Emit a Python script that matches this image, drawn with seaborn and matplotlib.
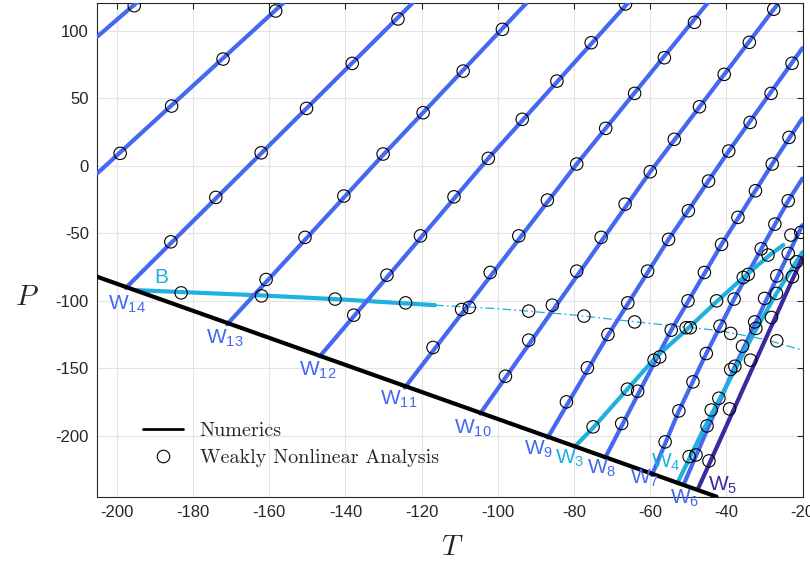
import matplotlib
matplotlib.use("Agg")
import matplotlib.pyplot as plt
import seaborn as sns
import numpy as np
from matplotlib.lines import Line2D
from matplotlib.font_manager import FontProperties

sns.set_style("white")
plt.rcParams["font.family"] = ["Liberation Sans", "DejaVu Sans"]

# ---------------- data (T, P) ----------------
num_T = [-205.1, -42.6]
num_P = [-82.2, -245.0]

w16_T = [-205.1, -194.8]
w16_P = [95.6, 120.7]
w15_T = [-205.1, -156.2]
w15_P = [-5.6, 120.7]
w14_T = [-197.6, -122.3]
w14_P = [-90.4, 120.7]
w13_T = [-171.0, -130.1, -92.4]
w13_P = [-117.3, 8.0, 120.7]
w12_T = [-146.7, -102.5, -65.8]
w12_P = [-141.0, 5.5, 120.7]
w11_T = [-124.4, -79.3, -44.9]
w11_P = [-164.2, 1.3, 120.7]
w10_T = [-104.6, -60.0, -26.3]
w10_P = [-183.4, -4.4, 120.7]
w9_T = [-86.9, -71.1, -55.2, -39.4, -20.1]
w9_P = [-201.2, -125.5, -54.5, 10.9, 87.0]
w8_T = [-71.8, -54.5, -41.3, -28.0, -20.1]
w8_P = [-216.0, -121.7, -58.2, 1.3, 35.1]
w7_T = [-59.5, -52.5, -45.3, -38.0, -30.9, -23.8, -20.1]
w7_P = [-228.6, -181.5, -139.0, -98.7, -61.7, -25.9, -9.5]
w6_T = [-51.2, -45.0, -38.0, -30.0, -20.1]
w6_P = [-235.8, -195.0, -150.0, -102.0, -44.0]
w5_T = [-47.4, -20.1]
w5_P = [-238.7, -68.0]
w4_T = [-52.9, -46.0, -40.0, -33.0, -27.0, -20.1]
w4_P = [-235.0, -195.0, -163.0, -125.0, -95.0, -64.0]
w3_T = [-79.8, -75.0, -66.2, -58.4, -50.5, -42.6, -34.8, -28.6, -25.1]
w3_P = [-207.9, -194.0, -166.0, -141.3, -121.5, -100.6, -80.8, -66.0, -58.7]
b_solid_T = [-194.8, -162.0, -142.7, -116.5]
b_solid_P = [-92.1, -96.0, -98.7, -103.2]
b_dash_T = [-116.5, -100.0, -80.0, -64.0, -42.0, -30.0, -20.1]
b_dash_P = [-103.2, -105.8, -110.5, -115.5, -122.0, -128.5, -136.5]

circ_T = [-195.4, -199.1, -185.6, -172.1, -158.3, -185.8, -174.0, -162.1, -150.2, -150.6,
          -126.2, -138.2, -98.8, -109.1, -119.6, -130.1, -140.4, -84.5, -93.6, -102.5,
          -111.5, -120.3, -87.0, -94.5, -66.5, -75.5, -79.3, -71.7, -64.1, -56.3,
          -48.4, -72.9, -66.6, -60.0, -53.7, -47.1, -40.6, -34.0, -27.6, -55.2,
          -50.0, -44.7, -39.4, -33.8, -28.3, -22.8, -41.3, -37.0, -32.4, -28.0,
          -23.6, -27.3, -23.8, -20.5, -23.1, -30.9, -183.1, -160.8, -162.0, -142.7,
          -137.8, -129.1, -124.2, -117.0, -109.5, -107.5, -102.0, -98.0, -91.9, -85.7,
          -91.9, -82.0, -79.3, -77.4, -76.5, -71.1, -65.9, -60.7, -64.1, -75.0,
          -67.5, -66.0, -63.3, -59.0, -57.5, -54.5, -56.1, -45.8, -50.1, -42.6,
          -38.0, -50.6, -49.5, -41.7, -38.9, -45.3, -48.8, -52.5, -49.8, -48.0,
          -44.6, -45.1, -44.0, -42.0, -39.2, -38.9, -37.8, -35.8, -33.7, -32.6,
          -32.3, -26.8, -30.0, -28.2, -26.9, -26.8, -35.6, -34.3, -29.1, -23.8,
          -21.6, -22.7]
circ_P = [118.5, 9.2, 44.2, 79.0, 114.6, -56.3, -23.4, 9.6, 42.5, -53.0,
          108.7, 75.8, 101.0, 70.1, 39.3, 8.7, -22.4, 62.7, 34.4, 5.5,
          -23.0, -51.9, -25.4, -51.9, 119.8, 91.1, 1.3, 27.7, 53.6, 80.0,
          106.2, -53.0, -28.4, -4.4, 19.6, 43.7, 67.7, 91.4, 115.9, -54.5,
          -33.3, -11.3, 10.9, 32.1, 53.6, 75.9, -58.2, -38.2, -18.5, 1.3,
          21.0, -43.2, -25.9, -49.3, -51.3, -61.5, -94.1, -84.2, -96.3, -98.7,
          -110.6, -81.0, -101.5, -134.5, -106.4, -104.9, -79.0, -155.8, -129.1, -103.2,
          -107.6, -174.8, -78.0, -111.3, -149.6, -124.9, -101.5, -78.0, -115.6, -193.3,
          -190.8, -165.4, -166.9, -143.9, -141.5, -121.7, -204.4, -79.0, -100.0, -100.0,
          -98.7, -119.9, -119.9, -118.7, -124.1, -139.0, -160.0, -181.5, -215.3, -214.1,
          -218.5, -192.6, -180.8, -172.1, -180.0, -150.8, -148.4, -133.6, -143.9, -115.6,
          -120.4, -129.6, -98.2, -112.3, -94.5, -81.5, -82.7, -80.4, -66.1, -64.9,
          -71.1, -82.2]

x_ticks = [-200, -180, -160, -140, -120, -100, -80, -60, -40, -20]
y_ticks = [-200, -150, -100, -50, 0, 50, 100]

# label texts and anchor positions (left / baseline)
lab_text = ["W$_\\mathregular{14}$", "W$_\\mathregular{13}$", "W$_\\mathregular{12}$",
            "W$_\\mathregular{11}$", "W$_\\mathregular{10}$", "W$_\\mathregular{9}$",
            "W$_\\mathregular{3}$", "W$_\\mathregular{8}$", "W$_\\mathregular{7}$",
            "W$_\\mathregular{4}$", "W$_\\mathregular{6}$", "W$_\\mathregular{5}$", "B"]
lab_T = [-202.2, -176.6, -152.3, -130.8, -111.5, -93.2, -85.0, -76.7, -65.2, -59.7, -54.7, -44.8, -190.1]
lab_P = [-106.7, -131.4, -155.2, -176.5, -198.0, -213.5, -220.2, -227.6, -235.0, -223.3, -249.6, -240.0, -87.0]

BLUE = "#4468f2"
CYAN = "#1fb0df"
DARK = "#3a2a9f"
lab_col = [BLUE] * 6 + [CYAN, BLUE, BLUE, CYAN, BLUE, DARK, CYAN]

# ---------------- figure ----------------
fig = plt.figure(figsize=(8.1, 5.67), dpi=100)
ax = fig.add_axes([0.1201, 0.1240, 0.8709, 0.8702])

LW = 3.0
def draw(T, P, color, lw=LW, z=2, **kw):
    sns.lineplot(x=T, y=P, ax=ax, color=color, linewidth=lw, sort=False,
                 estimator=None, legend=False, zorder=z, **kw)

draw(b_solid_T, b_solid_P, CYAN, z=2)
draw(b_dash_T, b_dash_P, CYAN, lw=0.9, z=2, linestyle=(0, (7, 2.5, 1.5, 2.5)))
for T, P in [(w16_T, w16_P), (w15_T, w15_P), (w14_T, w14_P), (w13_T, w13_P),
             (w12_T, w12_P), (w11_T, w11_P), (w10_T, w10_P), (w9_T, w9_P),
             (w8_T, w8_P), (w7_T, w7_P), (w6_T, w6_P)]:
    draw(T, P, BLUE, z=3)
draw(w3_T, w3_P, CYAN, z=4)
draw(w4_T, w4_P, CYAN, z=4)
draw(w5_T, w5_P, DARK, z=4)
draw(num_T, num_P, "black", z=5)

sns.scatterplot(x=circ_T, y=circ_P, ax=ax, marker="o", s=80, facecolors="none",
                edgecolor="black", linewidth=0.8, zorder=6, legend=False)

for t, T, P, c in zip(lab_text, lab_T, lab_P, lab_col):
    ax.text(T, P, t, color=c, fontsize=15, ha="left", va="baseline", zorder=7,
            family="Liberation Sans")

ax.set_xlim(-205.1, -20.0)
ax.set_ylim(-245.0, 120.3)
ax.set_xticks(x_ticks)
ax.set_xticklabels([str(v) for v in x_ticks])
ax.set_yticks(y_ticks)
ax.set_yticklabels([str(v) for v in y_ticks])
ax.tick_params(direction="in", length=4.5, width=0.8, top=True, right=True,
               labelsize=12, labelcolor="#262626", color="#262626", pad=6)
for lab in ax.get_xticklabels() + ax.get_yticklabels():
    lab.set_family("Liberation Sans")
for s in ax.spines.values():
    s.set_color("#262626")
    s.set_linewidth(0.8)
ax.grid(True, color="#e3e3e3", linewidth=0.8)
ax.set_axisbelow(True)

ax.set_xlabel("T", fontfamily="cmmi10", fontsize=21, va="center")
ax.set_ylabel("P", fontfamily="cmmi10", fontsize=21, rotation=0, va="center", ha="center")
ax.xaxis.set_label_coords(0.5, -0.104)
ax.yaxis.set_label_coords(-0.1025, 0.4027)

handles = [Line2D([], [], color="black", lw=2.0),
           Line2D([], [], color="black", lw=0, marker="o", markersize=9,
                  markerfacecolor="none", markeredgewidth=0.8)]
ax.legend(handles, ["Numerics", "Weakly Nonlinear Analysis"],
          prop=FontProperties(family="cmr10", size=14.5), frameon=False,
          loc="upper left", bbox_to_anchor=(0.065, 0.152), borderaxespad=0,
          borderpad=0, handlelength=2.0, handletextpad=0.8, labelspacing=0.45)

fig.savefig("out.png", dpi=100)
